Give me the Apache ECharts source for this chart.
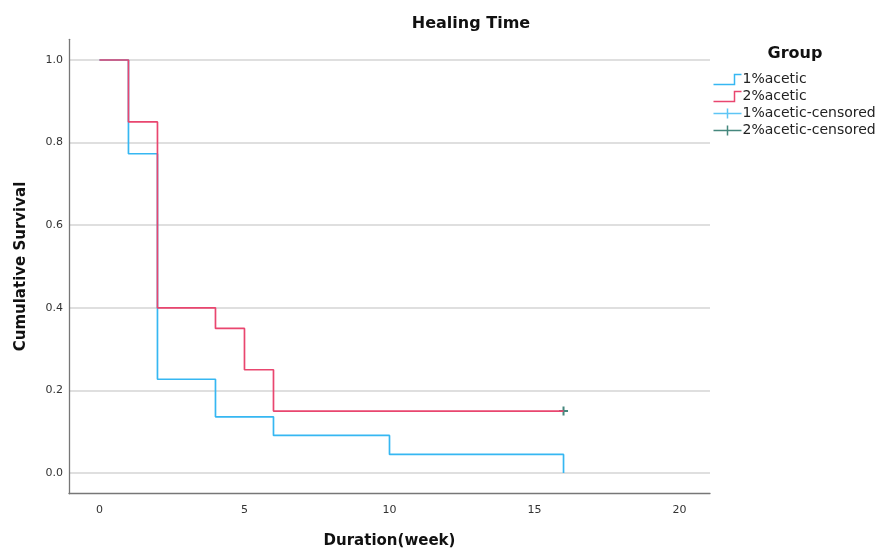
<!DOCTYPE html>
<html>
<head>
<meta charset="utf-8">
<script src="https://cdn.jsdelivr.net/npm/echarts@6/dist/echarts.min.js"></script>
<style>html,body{margin:0;padding:0;background:#fff}#c{width:879px;height:548px}</style>
</head>
<body>
<div id="c"></div>
<script>
const xTicks = [0, 5, 10, 15, 20];
const yTicks = [0, 0.2, 0.4, 0.6, 0.8, 1.0];
const times1 = [0, 1, 2, 4, 6, 10, 16];
const surv1 = [1.0, 0.773, 0.227, 0.136, 0.091, 0.045, 0.0];
const times2 = [0, 1, 2, 4, 5, 6, 16];
const surv2 = [1.0, 0.85, 0.40, 0.35, 0.25, 0.15, 0.15];
const censTimes1 = [];
const censSurv1 = [];
const censTimes2 = [16];
const censSurv2 = [0.15];
const names = ['1%acetic', '2%acetic', '1%acetic-censored', '2%acetic-censored'];

const C1 = '#36b7f2', C2 = '#e9466f', C3 = '#36b7f2', C4 = '#17695c';
const F = 'DejaVu Sans';
const zip = (a, b) => a.map((v, i) => [v, b[i]]);
const stepIcon = 'path://M0,10L21,10L21,0L28,0';
const plusIcon = 'path://M0,5L28,5M14,0L14,10';

const chart = echarts.init(document.getElementById('c'));
chart.setOption({
  animation: false,
  backgroundColor: '#fff',
  title: [
    {text: 'Healing Time', left: 471, top: 16, padding: 0, textAlign: 'center',
     textStyle: {fontFamily: F, fontWeight: 'bold', fontSize: 16, color: '#111'}},
    {text: 'Group', left: 795, top: 46, padding: 0, textAlign: 'center',
     textStyle: {fontFamily: F, fontWeight: 'bold', fontSize: 16, color: '#111'}}
  ],
  legend: {
    orient: 'vertical', left: 711, top: 72, padding: 0, itemWidth: 28, itemHeight: 10, itemGap: 2,
    textStyle: {fontFamily: F, fontSize: 14, color: '#222', padding: [0, 0, 0, -4]},
    data: [
      {name: names[0], icon: stepIcon, itemStyle: {color: 'none', borderColor: C1, borderWidth: 1.5}},
      {name: names[1], icon: stepIcon, itemStyle: {color: 'none', borderColor: C2, borderWidth: 1.5}},
      {name: names[2], icon: plusIcon, itemStyle: {color: 'none', borderColor: C3, borderWidth: 1.5}},
      {name: names[3], icon: plusIcon, itemStyle: {color: 'none', borderColor: C4, borderWidth: 1.5}}
    ]
  },
  grid: {left: 69, right: 169, top: 39.35, bottom: 54.35, containLabel: false, outerBoundsMode: 'none'},
  xAxis: {
    type: 'value', min: -1.05, max: 21.05,
    name: 'Duration(week)', nameLocation: 'middle', nameGap: 40,
    nameTextStyle: {fontFamily: F, fontWeight: 'bold', fontSize: 15, color: '#111'},
    axisLine: {show: true, onZero: false, lineStyle: {color: '#777', width: 1.3}},
    axisTick: {show: false, customValues: xTicks},
    axisLabel: {customValues: xTicks, margin: 11, fontFamily: F, fontSize: 11, color: '#333'},
    splitLine: {show: false}
  },
  yAxis: {
    type: 'value', min: -0.05, max: 1.05,
    name: 'Cumulative Survival', nameLocation: 'middle', nameGap: 40,
    nameTextStyle: {fontFamily: F, fontWeight: 'bold', fontSize: 15, color: '#111'},
    axisLine: {show: true, onZero: false, lineStyle: {color: '#777', width: 1.3}},
    axisTick: {show: false, customValues: yTicks},
    axisLabel: {customValues: yTicks, margin: 6, fontFamily: F, fontSize: 11, color: '#333',
      formatter: v => v.toFixed(1)},
    splitLine: {show: true, lineStyle: {color: '#d4d4d4', width: 1.5}}
  },
  series: [
    {name: names[0], type: 'line', step: 'end', data: zip(times1, surv1), showSymbol: false, symbol: 'none',
     lineStyle: {color: C1, width: 1.7}, itemStyle: {color: C1}},
    {name: names[1], type: 'line', step: 'end', data: zip(times2, surv2), showSymbol: false, symbol: 'none',
     lineStyle: {color: C2, width: 1.7}, itemStyle: {color: C2}},
    {name: names[2], type: 'scatter', data: zip(censTimes1, censSurv1), symbol: 'path://M0,5L10,5M5,0L5,10', symbolSize: 9,
     itemStyle: {color: 'none', borderColor: C3, borderWidth: 2}},
    {name: names[3], type: 'scatter', data: zip(censTimes2, censSurv2), symbol: 'path://M0,5L10,5M5,0L5,10', symbolSize: 9,
     itemStyle: {color: 'none', borderColor: C4, borderWidth: 2}}
  ]
});
</script>
</body>
</html>
